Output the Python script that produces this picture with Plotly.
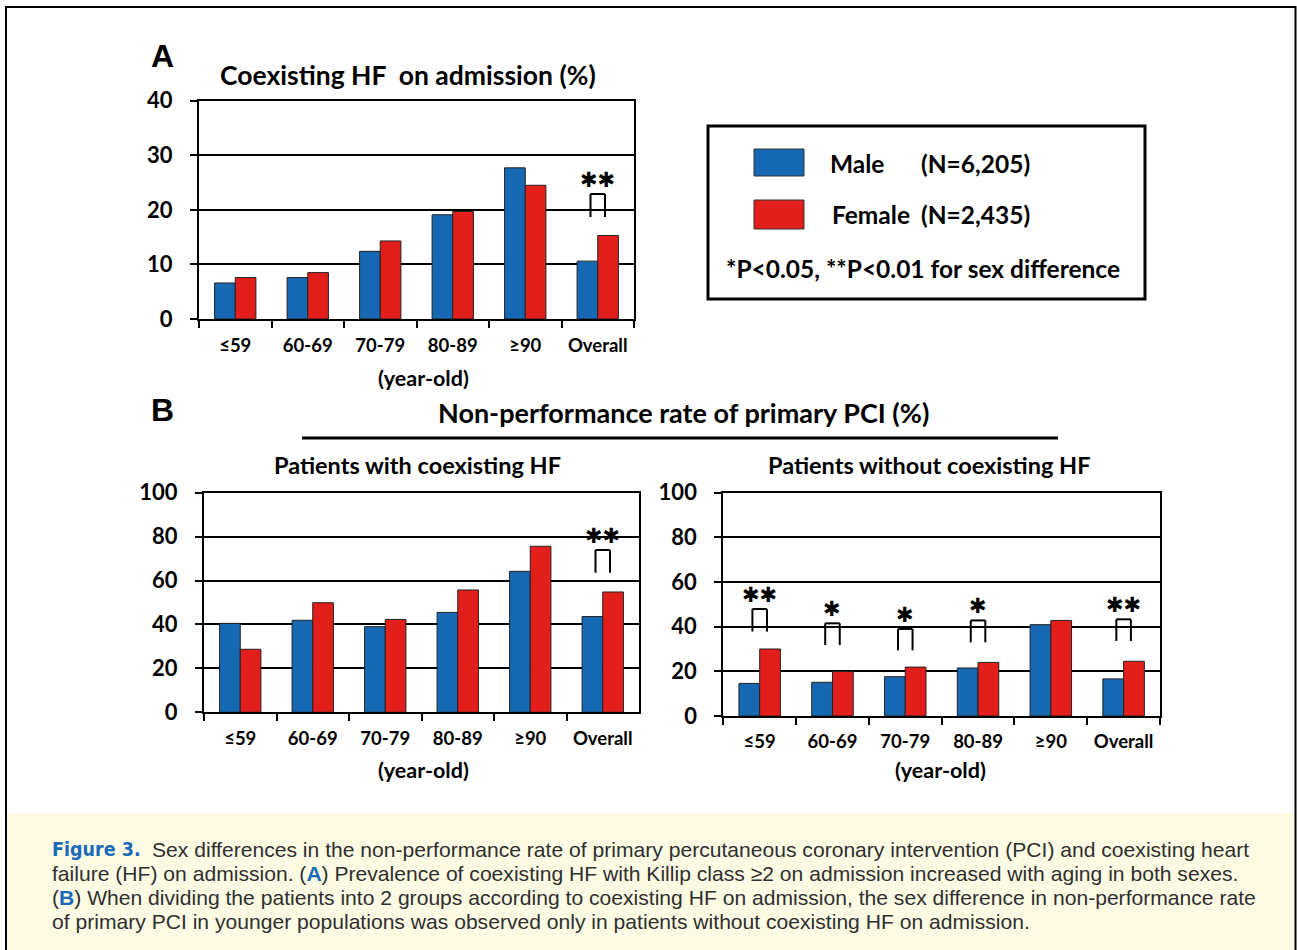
import plotly.graph_objects as go

# ---------------- data ----------------
categories = ["≤59", "60-69", "70-79", "80-89", "≥90", "Overall"]

hf_male = [6.6, 7.6, 12.4, 19.1, 27.7, 10.6]
hf_female = [7.6, 8.5, 14.3, 19.7, 24.5, 15.3]

pci_hf_male = [40.5, 41.9, 39.0, 45.5, 64.2, 43.6]
pci_hf_female = [28.7, 49.9, 42.3, 55.7, 75.6, 54.8]

pci_nohf_male = [14.6, 15.1, 17.6, 21.5, 40.9, 16.6]
pci_nohf_female = [30.0, 19.9, 21.9, 24.0, 42.8, 24.5]

# significance marks: (category, marks, bracket top, bracket leg bottom)
sig_a = [("Overall", "✱✱", 22.9, 18.7)]
sig_b_hf = [("Overall", "✱✱", 73.9, 63.6)]
sig_b_nohf = [("≤59", "✱✱", 47.9, 37.8), ("60-69", "✱", 41.5, 31.8),
              ("70-79", "✱", 39.0, 29.4), ("80-89", "✱", 42.8, 33.0),
              ("Overall", "✱✱", 43.3, 33.6)]

y_ticks_a = [0, 10, 20, 30, 40]
y_ticks_b = [0, 20, 40, 60, 80, 100]

# ---------------- style ----------------
W, H = 1297, 950
BLUE = "#1768b2"
RED = "#e31f1c"
FONT = "Lato"

def px(x):
    return x / W

def py(y):
    return 1 - y / H

fig = go.Figure()

panels = [
    ("x", "y", hf_male, hf_female, sig_a, [0, 40], y_ticks_a, (199, 634), (100.7, 319), 9),
    ("x2", "y2", pci_hf_male, pci_hf_female, sig_b_hf, [0, 100], y_ticks_b, (204, 639), (492.7, 712.3), 8),
    ("x3", "y3", pci_nohf_male, pci_nohf_female, sig_b_nohf, [0, 100], y_ticks_b, (723.3, 1160), (492.7, 716), 8),
]

shapes = []
annotations = []

for i, (xa, ya, male, female, sig, yr, yt, (xl, xr), (yt_px, yb_px), xstand) in enumerate(panels):
    fig.add_trace(go.Bar(x=categories, y=male, name="Male", marker=dict(color=BLUE, line=dict(color="#222", width=1)),
                         xaxis=xa, yaxis=ya, showlegend=False))
    fig.add_trace(go.Bar(x=categories, y=female, name="Female", marker=dict(color=RED, line=dict(color="#222", width=1)),
                         xaxis=xa, yaxis=ya, showlegend=False))
    suffix = "" if i == 0 else str(i + 1)
    fig.update_layout(**{
        "xaxis" + suffix: dict(
            domain=[px(xl), px(xr)], anchor=ya, type="category", range=[-0.5, 5.5],
            showline=True, linecolor="black", linewidth=2, mirror=True,
            ticks="outside", tickson="boundaries", ticklen=7, tickwidth=2, tickcolor="black",
            tickfont=dict(family=FONT, size=18.5, color="black", weight="bold"),
            ticklabelstandoff=xstand, showgrid=False, fixedrange=True, automargin=False,
        ),
        "yaxis" + suffix: dict(
            domain=[py(yb_px), py(yt_px)], anchor=xa, range=yr, tickvals=yt,
            showline=True, linecolor="black", linewidth=2, mirror=True,
            ticks="outside", ticklen=7, tickwidth=2, tickcolor="black",
            tickfont=dict(family=FONT, size=22, color="black", weight="bold"),
            ticklabelstandoff=13, automargin=False,
            showgrid=True, gridcolor="black", gridwidth=1.6, zeroline=False, fixedrange=True,
        ),
    })
    for cat, marks, top, bot in sig:
        k = categories.index(cat)
        for (x0, y0, x1, y1) in [(k - 0.1, bot, k - 0.1, top), (k - 0.1, top, k + 0.1, top), (k + 0.1, top, k + 0.1, bot)]:
            shapes.append(dict(type="line", xref=xa, yref=ya, x0=x0, y0=y0, x1=x1, y1=y1,
                               line=dict(color="black", width=2)))
        annotations.append(dict(xref=xa, yref=ya, x=k, y=top, text=marks, showarrow=False,
                                xanchor="center", yanchor="middle", yshift=14,
                                font=dict(family="DejaVu Sans", size=21, color="black", weight="bold")))

def txt(x, y, text, size, xanchor="center", family=FONT, weight="bold", color="black"):
    annotations.append(dict(xref="paper", yref="paper", x=px(x), y=py(y), text=text, showarrow=False,
                            xanchor=xanchor, yanchor="middle",
                            font=dict(family=family, size=size, color=color, weight=weight)))

# panel letters and titles
txt(162, 56, "A", 32, family="Liberation Sans")
txt(162, 410, "B", 32, family="Liberation Sans")
txt(408, 75, "Coexisting HF  on admission (%)", 26.5)
txt(683, 412, "Non-performance rate of primary PCI (%)", 27)
txt(417, 465, "Patients with coexisting HF", 23.5)
txt(929, 465, "Patients without coexisting HF", 23.5)
txt(423, 378, "(year-old)", 21.5)
txt(423, 770, "(year-old)", 21.5)
txt(940, 770, "(year-old)", 21.5)

# underline under B title
shapes.append(dict(type="line", xref="paper", yref="paper", x0=px(302), x1=px(1058), y0=py(438), y1=py(438),
                   line=dict(color="black", width=3)))

# legend box
shapes.append(dict(type="rect", xref="paper", yref="paper", x0=px(708), x1=px(1145), y0=py(126), y1=py(299),
                   line=dict(color="black", width=3), fillcolor="white"))
shapes.append(dict(type="rect", xref="paper", yref="paper", x0=px(754), x1=px(804), y0=py(149), y1=py(176),
                   line=dict(color="#333", width=1), fillcolor=BLUE))
shapes.append(dict(type="rect", xref="paper", yref="paper", x0=px(754), x1=px(804), y0=py(200), y1=py(229),
                   line=dict(color="#333", width=1), fillcolor=RED))
txt(828, 163, "Male", 24.5, xanchor="left")
txt(919, 163, "(N=6,205)", 24.5, xanchor="left")
txt(830, 214, "Female", 24.5, xanchor="left")
txt(919, 214, "(N=2,435)", 24.5, xanchor="left")
txt(724, 269, "*P<0.05, **P<0.01 for sex difference", 24.5, xanchor="left")

# outer frame and caption background
shapes.append(dict(type="rect", xref="paper", yref="paper", x0=px(7), x1=px(1295), y0=-0.05, y1=py(813),
                   line=dict(width=0), fillcolor="#fefbe5", layer="below"))
shapes.append(dict(type="rect", xref="paper", yref="paper", x0=px(6), x1=px(1295.5), y0=-0.05, y1=py(7),
                   line=dict(color="black", width=2), fillcolor="rgba(0,0,0,0)"))

CAP = "Liberation Sans"
CAPC = "#2e2e2e"
BL = "#1a6ab8"
CS = 21.1
txt(50, 849, "Figure 3.", 19.5, xanchor="left",
    family="DejaVu Sans Condensed, Liberation Sans Narrow, Liberation Sans", weight="bold", color=BL)
txt(150, 849, "Sex differences in the non-performance rate of primary percutaneous coronary intervention (PCI) and coexisting heart",
    CS, xanchor="left", family=CAP, weight="normal", color=CAPC)
txt(50, 873, "failure (HF) on admission. (<b><span style='color:%s'>A</span></b>) Prevalence of coexisting HF with Killip class ≥2 on admission increased with aging in both sexes." % BL,
    CS, xanchor="left", family=CAP, weight="normal", color=CAPC)
txt(50, 897, "(<b><span style='color:%s'>B</span></b>) When dividing the patients into 2 groups according to coexisting HF on admission, the sex difference in non-performance rate" % BL,
    CS, xanchor="left", family=CAP, weight="normal", color=CAPC)
txt(50, 921, "of primary PCI in younger populations was observed only in patients without coexisting HF on admission.",
    CS, xanchor="left", family=CAP, weight="normal", color=CAPC)

fig.update_layout(
    width=W, height=H, margin=dict(l=0, r=0, t=0, b=0, pad=0, autoexpand=False),
    paper_bgcolor="white", plot_bgcolor="white",
    barmode="group", bargap=0.43, bargroupgap=0,
    showlegend=False, shapes=shapes, annotations=annotations,
    font=dict(family=FONT, color="black"),
)

fig.write_html("out.html")
